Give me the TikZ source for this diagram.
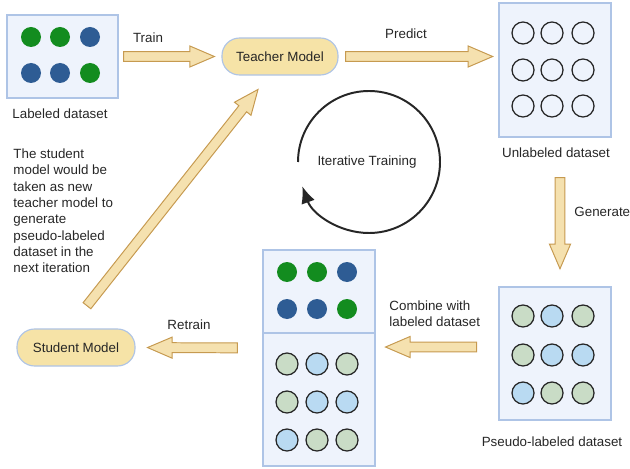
\documentclass[tikz,border=0pt]{standalone}
\usepackage{fontspec}
\setmainfont{Liberation Sans}
\usetikzlibrary{calc,arrows.meta}

\definecolor{boxfill}{HTML}{EEF3FC}
\definecolor{boxedge}{HTML}{AEC4E6}
\definecolor{modelfill}{HTML}{F6E3A7}
\definecolor{flowfill}{HTML}{F5E1AF}
\definecolor{flowedge}{HTML}{C69A50}
\definecolor{dkgreen}{HTML}{138C1F}
\definecolor{dkblue}{HTML}{2E5C94}
\definecolor{ltgreen}{HTML}{C9DCC6}
\definecolor{ltblue}{HTML}{B9DAF2}
\definecolor{ink}{HTML}{262626}

% fat block arrow from #1 to #2, leaving a gap of #3 / #4 at the ends
\newcommand{\blockarrow}[4]{%
  \coordinate (ba-a) at (#1);
  \coordinate (ba-b) at (#2);
  \coordinate (ba-s) at ($(ba-a)!#3!(ba-b)$);
  \coordinate (ba-e) at ($(ba-b)!#4!(ba-a)$);
  \coordinate (ba-c) at ($(ba-e)!17.5pt!(ba-s)$);
  \draw[flow] ($(ba-s)!3.5pt!90:(ba-e)$) -- ($(ba-c)!3.5pt!90:(ba-e)$)
    -- ($(ba-c)!7.5pt!90:(ba-e)$) -- (ba-e) -- ($(ba-c)!7.5pt!-90:(ba-e)$)
    -- ($(ba-c)!3.5pt!-90:(ba-e)$) -- ($(ba-s)!3.5pt!-90:(ba-e)$) -- cycle;
}

\begin{document}
\begin{tikzpicture}[x=0.025cm, y=0.025cm, font=\fontsize{9.5}{11.6}\selectfont, text=ink,
    dataset/.style={draw=boxedge, fill=boxfill, line width=0.9pt, inner sep=0pt},
    model/.style={draw=boxedge, fill=modelfill, line width=0.8pt, rounded corners=12.5pt,
      minimum width=2.9cm, minimum height=0.925cm},
    flow/.style={draw=flowedge, fill=flowfill, line width=0.7pt},
    ring/.style={draw=ink, line width=0.9pt}]
    \useasboundingbox (0,0) rectangle (630,468);

    % Labeled data
    \node[dataset, minimum width=2.775cm, minimum height=2.075cm] (lab) at (62.5,411.5) {};
    \foreach \x/\c in {31/dkgreen, 60/dkgreen, 90/dkblue} \fill[\c] (\x,431) circle[radius=10];
    \foreach \x/\c in {31/dkblue, 60/dkblue, 90/dkgreen} \fill[\c] (\x,395) circle[radius=10];
    \node (lab-txt) at (60,354) {Labeled dataset};

    % Models
    \node[model] (teacher) at (280,411.5) {Teacher Model};
    \node[model, minimum width=2.95cm] (student) at (76,120.5) {Student Model};

    % Unlabeled data
    \node[dataset, minimum width=2.8cm, minimum height=3.35cm] (unl) at (555,398) {};
    \foreach \y in {435,398,362}
      \foreach \x in {523,552,583} \draw[ring] (\x,\y) circle[radius=11];
    \node (unl-txt) at (556,315) {Unlabeled dataset};

    % Pseudo-labeled data
    \node[dataset, minimum width=2.8cm, minimum height=3.325cm] (pseudo) at (555,114.5) {};
    \foreach \x/\c in {523/ltgreen, 552/ltblue, 583/ltgreen} \draw[ring, fill=\c] (\x,152) circle[radius=11];
    \foreach \x/\c in {523/ltgreen, 552/ltblue, 583/ltblue} \draw[ring, fill=\c] (\x,113) circle[radius=11];
    \foreach \x/\c in {523/ltblue, 552/ltgreen, 583/ltgreen} \draw[ring, fill=\c] (\x,75) circle[radius=11];
    \node (pseudo-txt) at (552,26) {Pseudo-labeled dataset};

    % Combined data
    \node[dataset, minimum width=2.8cm, minimum height=5.4cm] (comb) at (319,110) {};
    \draw[boxedge, line width=0.9pt] ($(comb.west)+(0,25)$) -- ($(comb.east)+(0,25)$);
    \foreach \x/\c in {287/dkgreen, 317/dkgreen, 347/dkblue} \fill[\c] (\x,196) circle[radius=10];
    \foreach \x/\c in {287/dkblue, 317/dkblue, 347/dkgreen} \fill[\c] (\x,159) circle[radius=10];
    \foreach \x/\c in {287/ltgreen, 317/ltblue, 347/ltgreen} \draw[ring, fill=\c] (\x,104) circle[radius=11];
    \foreach \x/\c in {287/ltgreen, 317/ltblue, 347/ltblue} \draw[ring, fill=\c] (\x,66) circle[radius=11];
    \foreach \x/\c in {287/ltblue, 317/ltgreen, 347/ltgreen} \draw[ring, fill=\c] (\x,28) circle[radius=11];

    % Iteration loop
    \node (loop) at (367,306) {Iterative Training};
    \draw[ink, line width=1.4pt, -{Latex[length=12pt,width=10pt]}]
      (369,306) ++(180:71) arc[start angle=180, end angle=-160, radius=71];

    % Step labels
    \node (train-lbl) at (148,430) {Train};
    \node (predict-lbl) at (406,434) {Predict};
    \node[anchor=west] (gen-lbl) at (569.5,256) {Generate};
    \node[anchor=west, align=left] (comb-lbl) at (384.5,154) {Combine with\\labeled dataset};
    \node (retrain-lbl) at (189,143) {Retrain};
    \node[anchor=west, align=left] (note) at (8.5,257) {The student\\model would be\\taken as new\\teacher model to\\generate\\pseudo-labeled\\dataset in the\\next iteration};

    % Flow arrows
    \blockarrow{lab.east}{teacher.west}{3.5pt}{5pt}
    \blockarrow{teacher.east}{unl.west |- teacher.east}{5pt}{4pt}
    \blockarrow{$(unl.south)+(5,0)$}{$(pseudo.north)+(5,0)$}{28.5pt}{12.5pt}
    \blockarrow{$(pseudo.west)+(0,6.5)$}{$(comb.east)+(0,11)$}{15.5pt}{7pt}
    \blockarrow{$(comb.west)+(0,10)$}{student.east}{17.7pt}{8.5pt}
    \blockarrow{$(student.north)+(-7,0)$}{$(teacher.south)+(-11,0)$}{20.6pt}{12.6pt}
\end{tikzpicture}
\end{document}
